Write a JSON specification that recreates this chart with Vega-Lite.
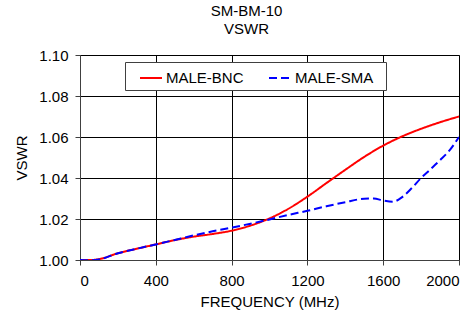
{
  "$schema": "https://vega.github.io/schema/vega-lite/v6.json",
  "width": 379,
  "height": 205,
  "autosize": {"type": "none"},
  "padding": {"left": 80, "top": 55, "right": 15, "bottom": 51},
  "background": "white",
  "config": {
    "font": "Liberation Sans",
    "view": {"stroke": "#808080", "strokeWidth": 1},
    "axis": {
      "labelFont": "Liberation Sans",
      "titleFont": "Liberation Sans",
      "labelFontSize": 15,
      "titleFontSize": 15,
      "titleFontWeight": "normal",
      "labelColor": "black",
      "titleColor": "black",
      "gridColor": "black",
      "gridOpacity": 1,
      "gridWidth": 1,
      "domainColor": "#404040",
      "tickColor": "#404040",
      "tickSize": 5
    },
    "legend": {
      "orient": "none",
      "legendX": 45,
      "legendY": 7,
      "direction": "horizontal",
      "fillColor": "white",
      "strokeColor": "#404040",
      "padding": 4,
      "symbolType": "stroke",
      "symbolSize": 484,
      "symbolStrokeWidth": 2,
      "labelFontSize": 15,
      "labelFont": "Liberation Sans",
      "labelColor": "black",
      "labelOffset": 3,
      "columnPadding": 14,
      "symbolOffset": 10,
      "titleOrient": "right",
      "titlePadding": 9,
      "titleFontSize": 15
    }
  },
  "title": {
    "text": ["SM-BM-10", "VSWR"],
    "fontSize": 15,
    "fontWeight": "normal",
    "font": "Liberation Sans",
    "color": "black",
    "lineHeight": 18,
    "offset": 11,
    "anchor": "middle",
    "dx": -23
  },
  "data": {
    "values": [
      {"f": 0, "v": 1.0000, "s": "MALE-BNC"},
      {"f": 50, "v": 1.0000, "s": "MALE-BNC"},
      {"f": 100, "v": 1.0004, "s": "MALE-BNC"},
      {"f": 200, "v": 1.0033, "s": "MALE-BNC"},
      {"f": 300, "v": 1.0055, "s": "MALE-BNC"},
      {"f": 400, "v": 1.0076, "s": "MALE-BNC"},
      {"f": 500, "v": 1.0097, "s": "MALE-BNC"},
      {"f": 600, "v": 1.0114, "s": "MALE-BNC"},
      {"f": 700, "v": 1.0127, "s": "MALE-BNC"},
      {"f": 800, "v": 1.0143, "s": "MALE-BNC"},
      {"f": 900, "v": 1.0168, "s": "MALE-BNC"},
      {"f": 1000, "v": 1.0203, "s": "MALE-BNC"},
      {"f": 1100, "v": 1.0250, "s": "MALE-BNC"},
      {"f": 1200, "v": 1.0309, "s": "MALE-BNC"},
      {"f": 1300, "v": 1.0375, "s": "MALE-BNC"},
      {"f": 1400, "v": 1.0440, "s": "MALE-BNC"},
      {"f": 1500, "v": 1.0503, "s": "MALE-BNC"},
      {"f": 1600, "v": 1.0558, "s": "MALE-BNC"},
      {"f": 1700, "v": 1.0603, "s": "MALE-BNC"},
      {"f": 1800, "v": 1.0640, "s": "MALE-BNC"},
      {"f": 1900, "v": 1.0672, "s": "MALE-BNC"},
      {"f": 2000, "v": 1.0700, "s": "MALE-BNC"},
      {"f": 0, "v": 1.0000, "s": "MALE-SMA"},
      {"f": 50, "v": 0.9999, "s": "MALE-SMA"},
      {"f": 100, "v": 1.0003, "s": "MALE-SMA"},
      {"f": 200, "v": 1.0033, "s": "MALE-SMA"},
      {"f": 300, "v": 1.0055, "s": "MALE-SMA"},
      {"f": 400, "v": 1.0076, "s": "MALE-SMA"},
      {"f": 500, "v": 1.0098, "s": "MALE-SMA"},
      {"f": 600, "v": 1.0120, "s": "MALE-SMA"},
      {"f": 700, "v": 1.0140, "s": "MALE-SMA"},
      {"f": 800, "v": 1.0158, "s": "MALE-SMA"},
      {"f": 900, "v": 1.0177, "s": "MALE-SMA"},
      {"f": 1000, "v": 1.0198, "s": "MALE-SMA"},
      {"f": 1100, "v": 1.0220, "s": "MALE-SMA"},
      {"f": 1200, "v": 1.0240, "s": "MALE-SMA"},
      {"f": 1300, "v": 1.0262, "s": "MALE-SMA"},
      {"f": 1400, "v": 1.0282, "s": "MALE-SMA"},
      {"f": 1500, "v": 1.0299, "s": "MALE-SMA"},
      {"f": 1550, "v": 1.0300, "s": "MALE-SMA"},
      {"f": 1600, "v": 1.0290, "s": "MALE-SMA"},
      {"f": 1650, "v": 1.0284, "s": "MALE-SMA"},
      {"f": 1700, "v": 1.0307, "s": "MALE-SMA"},
      {"f": 1750, "v": 1.0350, "s": "MALE-SMA"},
      {"f": 1800, "v": 1.0400, "s": "MALE-SMA"},
      {"f": 1850, "v": 1.0443, "s": "MALE-SMA"},
      {"f": 1900, "v": 1.0487, "s": "MALE-SMA"},
      {"f": 1950, "v": 1.0535, "s": "MALE-SMA"},
      {"f": 2000, "v": 1.0600, "s": "MALE-SMA"}
    ]
  },
  "mark": {"type": "line", "strokeWidth": 2, "interpolate": "monotone", "clip": true},
  "encoding": {
    "x": {
      "field": "f",
      "type": "quantitative",
      "title": "FREQUENCY (MHz)",
      "scale": {"domain": [0, 2000], "nice": false},
      "axis": {"values": [0, 400, 800, 1200, 1600, 2000], "format": "d", "labelPadding": 8, "titlePadding": 6}
    },
    "y": {
      "field": "v",
      "type": "quantitative",
      "title": "VSWR",
      "scale": {"domain": [1.0, 1.1], "nice": false, "zero": false},
      "axis": {"values": [1.0, 1.02, 1.04, 1.06, 1.08, 1.1], "format": ".2f", "labelPadding": 7, "titlePadding": 9}
    },
    "color": {
      "field": "s",
      "type": "nominal",
      "title": " ",
      "scale": {"domain": ["MALE-BNC", "MALE-SMA"], "range": ["#ff0000", "#0000ff"]}
    },
    "strokeDash": {
      "field": "s",
      "type": "nominal",
      "title": " ",
      "scale": {"domain": ["MALE-BNC", "MALE-SMA"], "range": [[1, 0], [8, 4]]}
    }
  }
}
